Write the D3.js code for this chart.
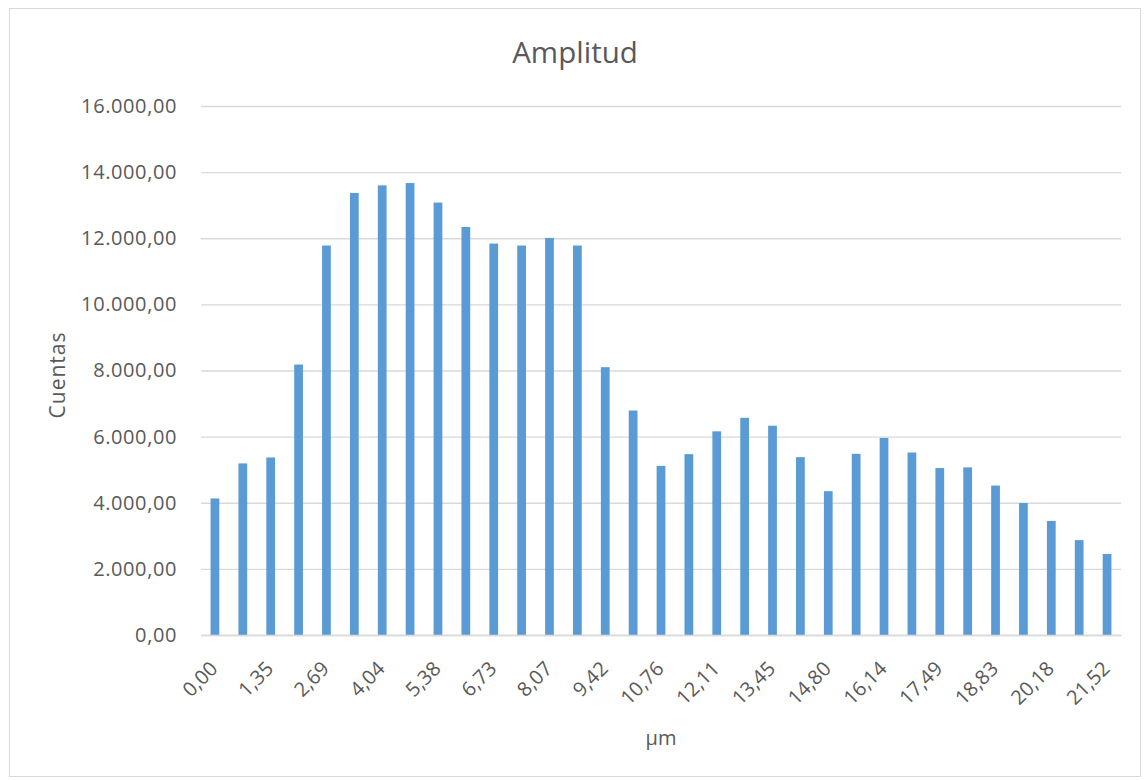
<!DOCTYPE html>
<html>
<head>
<meta charset="utf-8">
<script src="https://cdn.jsdelivr.net/npm/d3@7"></script>
<style>
  html, body { margin: 0; padding: 0; background: #ffffff; }
  svg { display: block; font-family: "Open Sans", "Liberation Sans", sans-serif; }
</style>
</head>
<body>
<svg id="chart" width="1147" height="780"></svg>
<script>
// Size classes (µm) and particle counts for each class
const categories = ["0,00","0,67","1,35","2,02","2,69","3,36","4,04","4,71","5,38","6,05",
  "6,73","7,40","8,07","8,74","9,42","10,09","10,76","11,43","12,11","12,78","13,45",
  "14,12","14,80","15,47","16,14","16,81","17,49","18,16","18,83","19,50","20,18","20,85","21,52"];
const counts = [4130,5190,5370,8180,11780,13370,13600,13670,13080,12340,11840,11780,12010,
  11780,8100,6790,5115,5470,6160,6570,6330,5380,4350,5480,5960,5520,5050,5070,4520,3990,
  3450,2870,2450];
const yTicks = [0,2000,4000,6000,8000,10000,12000,14000,16000];
const xTickLabels = categories.filter((d, i) => i % 2 === 0);

const chartTitle = "Amplitud";
const xTitle = "µm";
const yTitle = "Cuentas";

const textColor = "#595959";
const gridColor = "#d9d9d9";
const barColor = "#5b9bd5";

const svg = d3.select("#chart");

// Spanish number formatting: "." for thousands, "," for decimals
const locale = d3.formatLocale({ decimal: ",", thousands: ".", grouping: [3], currency: ["", ""] });
const fmt = locale.format(",.2f");

const plot = { left: 201, right: 1121, top: 106, bottom: 635 };

const x = d3.scaleBand()
  .domain(categories)
  .range([plot.left, plot.right])
  .paddingInner(0.686)
  .paddingOuter(0.343);

const y = d3.scaleLinear()
  .domain([0, 16000])
  .range([plot.bottom, plot.top]);

// Chart frame
svg.append("rect")
  .attr("x", 9.5).attr("y", 8.5)
  .attr("width", 1131).attr("height", 768)
  .attr("fill", "#ffffff")
  .attr("stroke", gridColor)
  .attr("stroke-width", 1);

// Horizontal gridlines + y labels
const yAxis = d3.axisLeft(y)
  .tickValues(yTicks)
  .tickSize(-(plot.right - plot.left))
  .tickPadding(24)
  .tickFormat(fmt);

const gy = svg.append("g")
  .attr("transform", `translate(${plot.left},0)`)
  .call(yAxis);
gy.select(".domain").remove();
gy.selectAll(".tick line")
  .attr("stroke", gridColor)
  .attr("stroke-width", 1.3);
gy.selectAll(".tick text")
  .attr("fill", textColor)
  .attr("font-size", 20)
  .attr("letter-spacing", "0.6px")
  .attr("font-family", "Open Sans, sans-serif");

// Bars
svg.append("g")
  .selectAll("rect")
  .data(counts)
  .join("rect")
  .attr("x", (d, i) => x(categories[i]))
  .attr("y", d => y(d))
  .attr("width", x.bandwidth())
  .attr("height", d => y(0) - y(d))
  .attr("fill", barColor);

// X axis with every other class labelled
const xAxis = d3.axisBottom(x)
  .tickValues(xTickLabels)
  .tickSize(0)
  .tickPadding(0);

const gx = svg.append("g")
  .attr("transform", `translate(0,${plot.bottom})`)
  .call(xAxis);
gx.select(".domain")
  .attr("stroke", gridColor)
  .attr("stroke-width", 1.3);
gx.selectAll(".tick text")
  .attr("fill", textColor)
  .attr("font-size", 20)
  .attr("font-family", "Open Sans, sans-serif")
  .attr("text-anchor", "end")
  .attr("dy", null)
  .attr("y", 0)
  .attr("transform", "translate(4,35) rotate(-45)");

// Title
svg.append("text")
  .attr("x", 575)
  .attr("y", 63)
  .attr("text-anchor", "middle")
  .attr("fill", textColor)
  .attr("font-size", 29.5)
  .text(chartTitle);

// Axis titles
svg.append("text")
  .attr("x", (plot.left + plot.right) / 2)
  .attr("y", 745)
  .attr("text-anchor", "middle")
  .attr("fill", textColor)
  .attr("font-size", 20)
  .text(xTitle);

svg.append("text")
  .attr("transform", "translate(65,375) rotate(-90)")
  .attr("text-anchor", "middle")
  .attr("fill", textColor)
  .attr("font-size", 21)
  .attr("letter-spacing", "1px")
  .text(yTitle);
</script>
</body>
</html>
